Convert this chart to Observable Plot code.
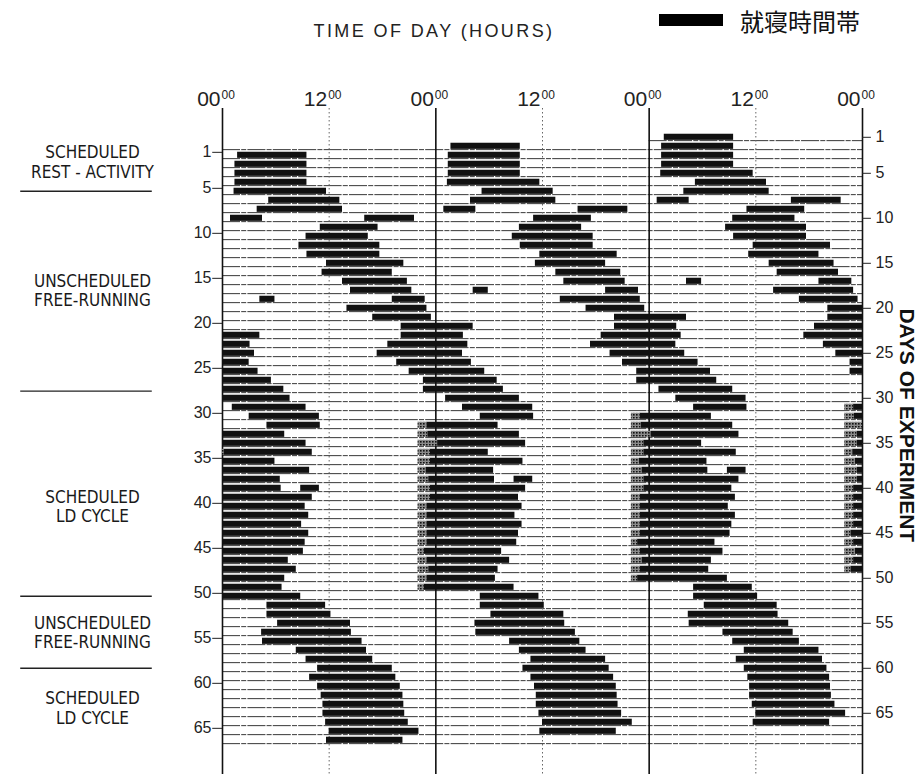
<!DOCTYPE html>
<html>
<head>
<meta charset="utf-8">
<script src="https://cdn.jsdelivr.net/npm/d3@7"></script>
<script src="https://cdn.jsdelivr.net/npm/@observablehq/plot@0.6"></script>
<style>
  body { margin: 0; background: #fff; }
  #wrap { position: relative; width: 922px; height: 774px; }
  #title { position: absolute; left: 0; top: 22px; width: 868px; text-align: center;
           font: 18px/18px "Liberation Sans", Arial, sans-serif; letter-spacing: 2.4px; color: #222; }
  #legend { position: absolute; left: 659px; top: 3px; height: 34px; display: flex; align-items: center;
            font: 24px "Noto Sans CJK JP", "Noto Sans CJK SC", sans-serif; color: #111; }
  #legend .sw { display: inline-block; width: 64px; height: 12px; background: #000; margin-right: 17px; }
</style>
</head>
<body>
<div id="wrap">
  <div id="title">TIME OF DAY (HOURS)</div>
  <div id="legend"><span class="sw"></span><span>就寝時間帯</span></div>
</div>
<script>
// Sleep episodes: day of the experiment, clock time of sleep onset and of
// waking (hours; values above 24 run past midnight into the next day).
const sleepDay = [
  1, 2, 3, 4, 5, 6, 7, 8, 8, 9,
  10, 11, 12, 13, 14, 15, 16, 17, 17, 18,
  19, 20, 21, 22, 23, 24, 25, 26, 27, 29,
  30, 31, 31, 32, 34, 34, 35, 36, 37, 38,
  38, 39, 40, 41, 42, 43, 44, 45, 46, 47,
  48, 49, 51, 52, 53, 54, 55, 56, 57, 58,
  59, 60, 61, 62, 63, 64, 65, 66
];
const sleepOnset = [
  1.7, 1.4, 1.4, 1.4, 1.3, 5.2, 3.9, 0.9, 16.0, 11.0,
  9.4, 8.6, 9.5, 11.7, 11.2, 13.5, 14.4, 4.2, 19.1, 14.0,
  16.9, 20.1, 20.1, 18.6, 17.4, 19.6, 21.0, 22.6, 22.6, 1.1,
  3.0, 5.0, 23.0, 23.1, 0.2, 23.4, 23.4, 22.9, 23.2, 8.8,
  23.4, 23.4, 23.0, 23.0, 23.0, 23.0, 23.0, 22.7, 23.0, 23.2,
  23.0, 22.7, 5.0, 5.0, 6.2, 4.4, 4.5, 8.3, 9.4, 10.7,
  9.8, 10.7, 11.1, 11.3, 11.3, 11.6, 12.0, 11.7
];
const sleepEnd = [
  9.5, 9.5, 9.5, 9.5, 11.7, 13.2, 13.5, 4.5, 21.6, 17.5,
  16.4, 17.7, 17.7, 20.4, 19.1, 20.8, 21.3, 5.9, 22.8, 23.0,
  23.5, 28.2, 27.1, 27.6, 27.0, 28.0, 29.5, 30.9, 31.6, 9.4,
  10.9, 11.0, 31.0, 33.4, 10.1, 29.9, 33.8, 30.5, 30.6, 10.9,
  34.1, 33.3, 33.7, 32.9, 33.7, 33.3, 33.1, 31.4, 32.3, 31.0,
  30.7, 32.8, 11.6, 12.2, 14.4, 14.5, 15.7, 16.2, 16.9, 19.1,
  19.5, 20.0, 20.3, 20.4, 20.5, 20.9, 22.1, 20.3
];

// Days of the scheduled light-dark cycle and the clock hour the lights go out
const ldDays = [31, 32, 33, 34, 35, 36, 37, 38, 39, 40, 41, 42, 43, 44, 45, 46, 47, 48, 49];
const lightsOffHour = 22;

// Axis ticks
const hourTicks = [0, 12, 24, 36, 48, 60, 72];
const hourLabels = ["00", "12", "00", "12", "00", "12", "00"];
const dayTicks = [1, 5, 10, 15, 20, 25, 30, 35, 40, 45, 50, 55, 60, 65];

// Experimental phases, with the day on which each label sits and the
// days that separate consecutive phases
const phaseNames = [
  "SCHEDULED\nREST - ACTIVITY",
  "UNSCHEDULED\nFREE-RUNNING",
  "SCHEDULED\nLD CYCLE",
  "UNSCHEDULED\nFREE-RUNNING",
  "SCHEDULED\nLD CYCLE"
];
const phaseLabelDays = [1.7, 16, 40, 54, 62.4];
const phaseBreaks = [5, 27.2, 50, 58];

// ---- triple-plotted layout: row r shows day r, r+1 and r+2 side by side ----
const rows = d3.range(-1, 67);
const episodes = sleepDay.map((d, i) => ({
  start: (d - 1) * 24 + sleepOnset[i],
  end: (d - 1) * 24 + sleepEnd[i]
}));
// stretch from lights-out to the first sleep onset after it
const lightsOut = ldDays.map(d => {
  const off = (d - 1) * 24 + lightsOffHour;
  const next = d3.min(episodes.filter(e => e.start >= off), e => e.start);
  return {start: off, end: next};
});
function toRows(list) {
  const out = [];
  for (const r of rows) {
    const w = (r - 1) * 24;
    for (const e of list) {
      const a = Math.max(e.start, w), b = Math.min(e.end, w + 72);
      if (b > a) out.push({row: r, x1: a - w, x2: b - w});
    }
  }
  return out;
}
const sleepBars = toRows(episodes);
const darkBars = toRows(lightsOut);
const rowLines = rows.map(r => ({row: r, from: r < 0 ? 48 : 0}));

const narrow = '"Liberation Sans Narrow", "DejaVu Sans Condensed", "Liberation Sans", sans-serif';
const half = 0.34;

const chart = Plot.plot({
  width: 922,
  height: 774,
  marginLeft: 222,
  marginRight: 60,
  marginTop: 108,
  marginBottom: 0,
  x: {domain: [0, 72], axis: null},
  y: {domain: [-4.2, 69.8], reverse: true, axis: null},
  style: {fontFamily: '"Liberation Sans", Arial, sans-serif', color: "#1a1a1a", background: "transparent"},
  marks: [
    // day rows
    Plot.ruleY(rowLines, {y: d => d.row + half + 0.03, x1: "from", x2: 72,
      stroke: "#222", strokeWidth: 1, strokeDasharray: "18,1.2,5,1.2", strokeOpacity: 0.9}),
    // noon and midnight guides
    Plot.ruleX([12, 36, 60], {stroke: "#666", strokeWidth: 1, strokeDasharray: "1.5,2.5"}),
    Plot.ruleX([0, 24, 48, 72], {stroke: "#111", strokeWidth: 1.6}),
    // lights-out before sleep in the LD cycle
    Plot.rect(darkBars, {x1: "x1", x2: "x2", y1: d => d.row - half, y2: d => d.row + half,
      fill: "url(#stipple)"}),
    // sleep episodes
    Plot.rect(sleepBars, {x1: "x1", x2: "x2", y1: d => d.row - half, y2: d => d.row + half,
      fill: "#111"}),
    // top hour labels
    Plot.text(hourTicks, {x: d => d, y: -4.2, text: (d, i) => hourLabels[i], textAnchor: "end",
      lineAnchor: "bottom", dx: -2, dy: -3, fontSize: 21, fill: "#222"}),
    Plot.text(hourTicks, {x: d => d, y: -4.2, text: () => "00", textAnchor: "start",
      lineAnchor: "bottom", dx: -1, dy: -10, fontSize: 12, fill: "#222"}),
    // left day axis
    Plot.ruleY(dayTicks, {y: d => d - 0.33, x1: -1.1, x2: 0, stroke: "#222", strokeWidth: 1}),
    Plot.text(dayTicks, {x: 0, y: d => d - 0.33, text: d => String(d), textAnchor: "end",
      dx: -11, fontSize: 16, fill: "#222"}),
    // right day axis (day shown in the third panel)
    Plot.ruleY(dayTicks, {y: d => d - 2, x1: 72, x2: 73, stroke: "#222", strokeWidth: 1}),
    Plot.text(dayTicks, {x: 72, y: d => d - 2, text: d => String(d), textAnchor: "start",
      dx: 13, fontSize: 16, fill: "#222"}),
    Plot.text(["DAYS OF EXPERIMENT"], {x: 72, y: 31, dx: 44, rotate: 90, fontSize: 21,
      fontWeight: "bold", fill: "#111"}),
    // phase annotations
    Plot.text(phaseNames, {x: 0, y: (d, i) => phaseLabelDays[i], dx: -130, text: d => d,
      fontSize: 17, lineHeight: 1.15, fontFamily: narrow, fill: "#1a1a1a"}),
    Plot.ruleY(phaseBreaks, {x1: -22.7, x2: -7.9, stroke: "#222", strokeWidth: 1.4})
  ]
});

// stipple used for the lights-out stretch
const defs = d3.select(chart).insert("defs", ":first-child");
const pat = defs.append("pattern").attr("id", "stipple")
  .attr("width", 3).attr("height", 3).attr("patternUnits", "userSpaceOnUse");
pat.append("rect").attr("width", 3).attr("height", 3).attr("fill", "#8a8a8a");
pat.append("rect").attr("width", 1.6).attr("height", 1.6).attr("fill", "#111");

chart.style.position = "absolute";
chart.style.left = "0";
chart.style.top = "0";
document.getElementById("wrap").prepend(chart);
</script>
</body>
</html>
